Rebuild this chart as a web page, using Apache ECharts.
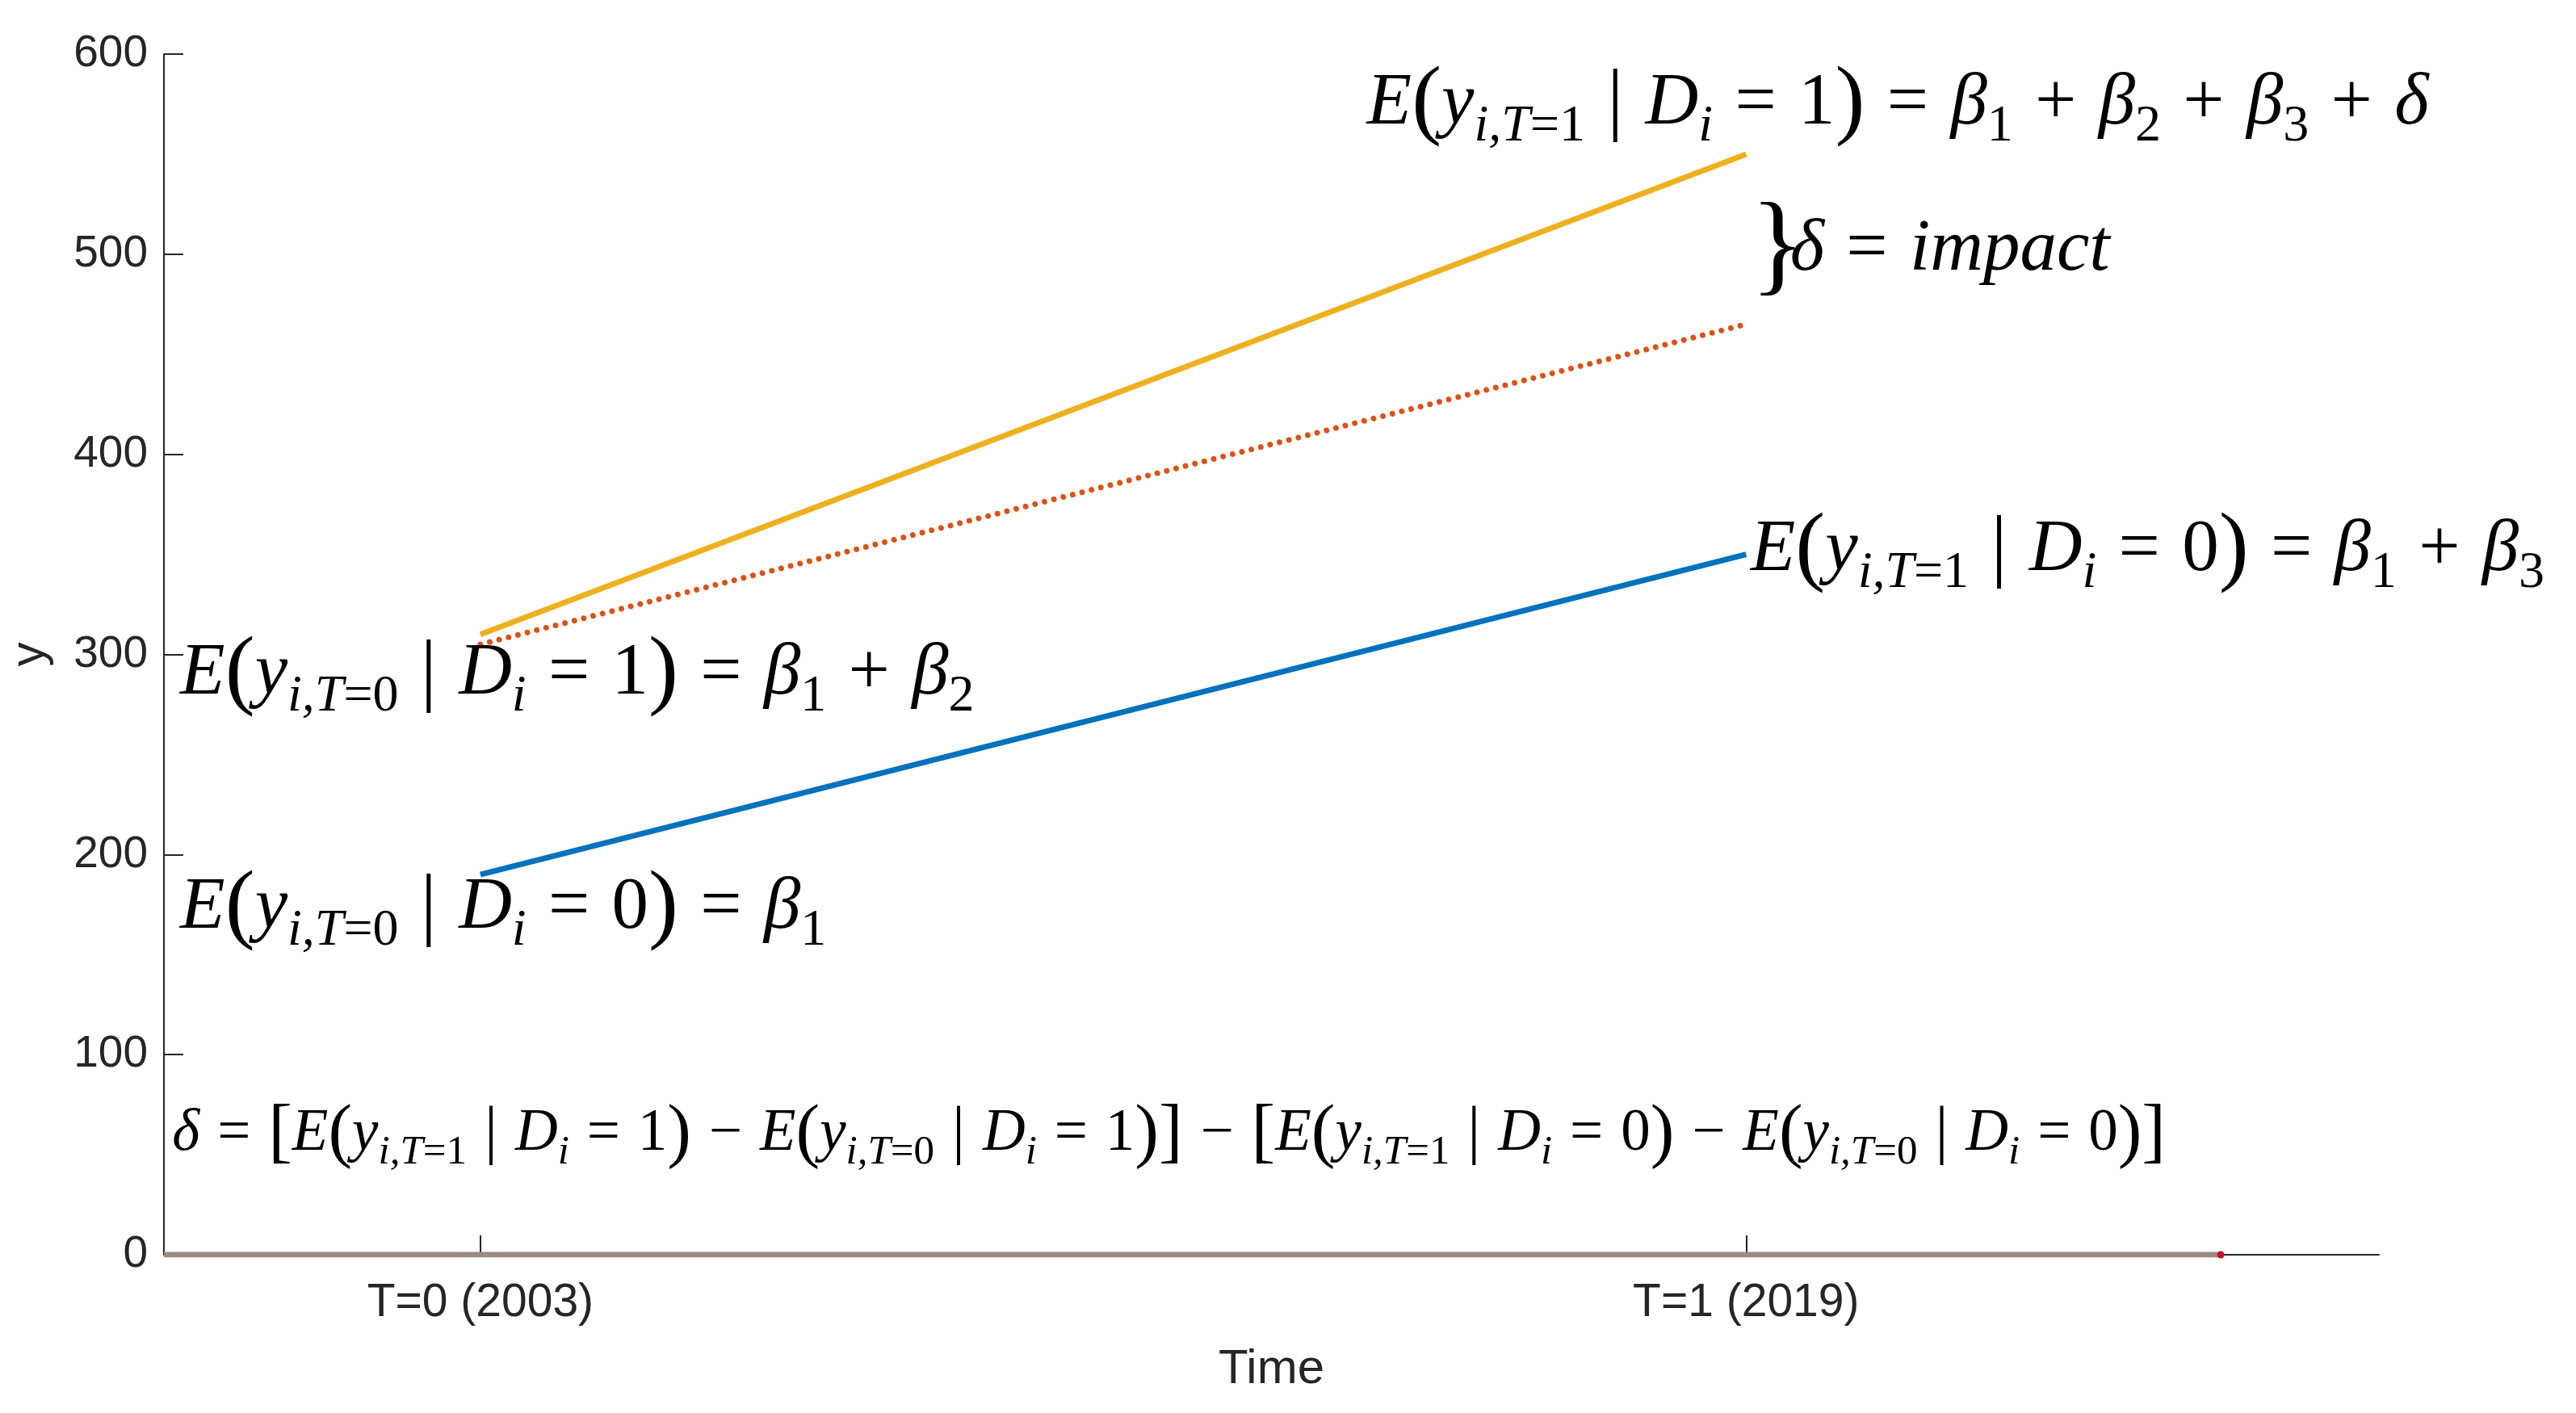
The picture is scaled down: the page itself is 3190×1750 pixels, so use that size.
<!DOCTYPE html>
<html>
<head>
<meta charset="utf-8">
<script src="https://cdn.jsdelivr.net/npm/echarts@6/dist/echarts.min.js"></script>
<style>
  html, body { margin: 0; padding: 0; background: #fff; }
  #main { width: 3190px; height: 1750px; }
</style>
</head>
<body>
<div id="main"></div>
<script>
  // time points (years) and their tick labels
  const years = [2003, 2019];
  const tickLabels = ['T=0 (2003)', 'T=1 (2019)'];
  const xRange = [1999, 2027];

  // expected outcome per group
  const control = [190, 350];          // D = 0
  const treated = [310, 550];          // D = 1
  const counterfactual = [305, 465];   // D = 1 without treatment

  // flat line drawn along y = 0
  const zeroYears = [1999, 2025];
  const zeroValues = [0, 0];

  // where the equations sit, in data units (left edge, vertical centre)
  const noteYears = [2014.2, 2019.05, 2019.55, 2019.05, 1999.2, 1999.2, 1999.1];
  const noteValues = [575, 502, 502, 352, 290, 173, 60];

  // equations written as rich text tokens
  const eq = (t, d, rhs) =>
    '{v|E}{p|(}{v|y}{s|i,T}{sn|=' + t + '}{mid||}{v|D}{s|i}{op|=}{n|' + d + '}{p|)}' + (rhs || '');
  const notes = [
    eq(1, 1, '{op|=}{v|β}{sn|1}{op|+}{v|β}{sn|2}{op|+}{v|β}{sn|3}{op|+}{v|δ}'),
    'brace',
    '{v|δ}{op|=}{v|impact}',
    eq(1, 0, '{op|=}{v|β}{sn|1}{op|+}{v|β}{sn|3}'),
    eq(0, 1, '{op|=}{v|β}{sn|1}{op|+}{v|β}{sn|2}'),
    eq(0, 0, '{op|=}{v|β}{sn|1}'),
    '{v|δ}{op|=}{p|[}' + eq(1, 1) + '{op|−}' + eq(0, 1) + '{p|]}{op|−}{p|[}' + eq(1, 0) + '{op|−}' + eq(0, 0) + '{p|]}'
  ];

  function richAt(size) {
    const serif = 'Liberation Serif';
    const lh = size * 1.45;
    const sub = Math.round(size * 0.7);
    const gap = size * 0.3;
    return {
      v: { fontFamily: serif, fontStyle: 'italic', fontSize: size, lineHeight: lh, color: '#000' },
      n: { fontFamily: serif, fontSize: size, lineHeight: lh, color: '#000' },
      op: { fontFamily: serif, fontSize: size, lineHeight: lh, color: '#000', padding: [0, gap, 0, gap] },
      mid: { fontFamily: serif, fontSize: size * 1.1, lineHeight: lh, color: '#000', padding: [0, gap, 0, gap] },
      p: { fontFamily: serif, fontSize: size * 1.22, lineHeight: lh, color: '#000' },
      s: { fontFamily: serif, fontStyle: 'italic', fontSize: sub, color: '#000', padding: [size * 0.62, 0, 0, 0] },
      sn: { fontFamily: serif, fontSize: sub, color: '#000', padding: [size * 0.62, 0, 0, 0] }
    };
  }

  const noteData = notes.map(function (txt, i) {
    let label;
    if (txt === 'brace') {
      label = { show: true, position: 'right', distance: 0, formatter: function () { return '}'; },
                fontFamily: 'Liberation Serif', fontSize: 140, color: '#000' };
    } else {
      label = { show: true, position: 'right', distance: 0, formatter: function () { return txt; },
                rich: richAt(i === 6 ? 73 : 91) };
    }
    return { coord: [noteYears[i], noteValues[i]], symbol: 'circle', symbolSize: 1, label: label };
  });

  const pairs = (xs, ys) => xs.map((x, i) => [x, ys[i]]);

  let chart = echarts.init(document.getElementById('main'));
  chart.setOption({
    animation: false,
    backgroundColor: '#fff',
    grid: { left: 203, right: 244, top: 67, bottom: 196, containLabel: false, outerBoundsMode: 'none' },
    xAxis: {
      type: 'value',
      min: xRange[0],
      max: xRange[1],
      name: 'Time',
      nameLocation: 'middle',
      nameGap: 112,
      nameTextStyle: { fontFamily: 'Liberation Sans', fontSize: 60, color: '#262626' },
      axisLine: { show: true, lineStyle: { color: '#262626', width: 2 } },
      axisTick: { show: true, inside: true, length: 24, customValues: years, lineStyle: { color: '#262626', width: 2 } },
      axisLabel: {
        customValues: years,
        margin: 32,
        fontFamily: 'Liberation Sans', fontSize: 57, color: '#262626',
        formatter: function (v) { return tickLabels[years.indexOf(v)]; }
      },
      splitLine: { show: false }
    },
    yAxis: {
      type: 'value',
      min: 0,
      max: 600,
      interval: 100,
      name: 'y',
      nameLocation: 'middle',
      nameGap: 136,
      nameTextStyle: { fontFamily: 'Liberation Sans', fontSize: 60, color: '#262626' },
      axisLine: { show: true, lineStyle: { color: '#262626', width: 2 } },
      axisTick: { show: true, inside: true, length: 24, lineStyle: { color: '#262626', width: 2 } },
      axisLabel: { margin: 20, fontFamily: 'Liberation Sans', fontSize: 55, color: '#262626' },
      splitLine: { show: false }
    },
    series: [
      {
        name: 'zero',
        type: 'line',
        data: pairs(zeroYears, zeroValues).map(function (p, i) {
          return i === zeroYears.length - 1
            ? { value: p, symbol: 'circle', symbolSize: 9, itemStyle: { color: '#c8102e' } }
            : { value: p, symbol: 'none' };
        }),
        lineStyle: { color: '#9c8a80', width: 7 },
        silent: true,
        markPoint: { data: noteData, itemStyle: { color: 'rgba(0,0,0,0)' }, silent: true }
      },
      {
        name: 'counterfactual',
        type: 'line',
        data: pairs(years, counterfactual),
        showSymbol: false,
        lineStyle: { color: '#D95319', width: 7, type: [0.01, 12], cap: 'round' }
      },
      {
        name: 'treated',
        type: 'line',
        data: pairs(years, treated),
        showSymbol: false,
        lineStyle: { color: '#EDB120', width: 7 }
      },
      {
        name: 'control',
        type: 'line',
        data: pairs(years, control),
        showSymbol: false,
        lineStyle: { color: '#0072BD', width: 7 }
      }
    ]
  });
</script>
</body>
</html>
